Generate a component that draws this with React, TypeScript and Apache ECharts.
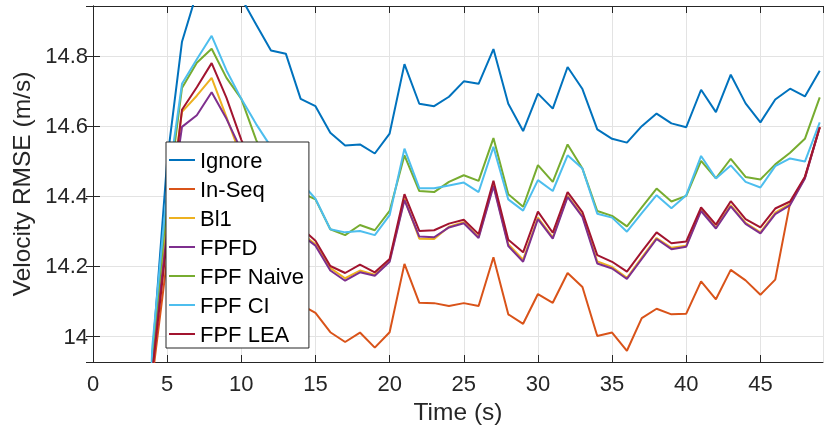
import React, { useEffect, useRef } from "react";
import * as echarts from "echarts";

const timeS = [3,4,5,6,7,8,9,10,11,12,13,14,15,16,17,18,19,20,21,22,23,24,25,26,27,28,29,30,31,32,33,34,35,36,37,38,39,40,41,42,43,44,45,46,47,48,49];

const ignore = [13.2,13.94,14.50,14.84,14.98,15.05,15.02,14.965,14.889,14.815,14.806,14.677,14.656,14.58,14.544,14.547,14.521,14.578,14.776,14.663,14.656,14.683,14.727,14.72,14.819,14.663,14.585,14.692,14.649,14.768,14.705,14.59,14.563,14.552,14.599,14.635,14.607,14.596,14.703,14.639,14.746,14.664,14.61,14.675,14.706,14.684,14.757];
const inSeq = [12.9,13.88,14.22,14.36,14.41,14.46,14.36,14.26,14.19,14.15,14.11,14.09,14.066,14.011,13.983,14.01,13.967,14.011,14.206,14.095,14.094,14.086,14.094,14.086,14.225,14.062,14.035,14.12,14.095,14.18,14.14,14.0,14.01,13.958,14.051,14.078,14.062,14.064,14.156,14.105,14.189,14.159,14.118,14.161,14.38,14.452,14.597];
const bl1 = [12.9,13.94,14.33,14.64,14.686,14.737,14.625,14.51,14.44,14.38,14.33,14.295,14.262,14.194,14.165,14.187,14.175,14.215,14.392,14.278,14.277,14.312,14.325,14.283,14.432,14.262,14.218,14.338,14.282,14.4,14.344,14.213,14.197,14.166,14.224,14.28,14.252,14.258,14.36,14.31,14.374,14.323,14.296,14.352,14.377,14.452,14.596];
const fpfd = [12.9,13.93,14.30,14.597,14.63,14.696,14.62,14.53,14.45,14.38,14.33,14.29,14.258,14.187,14.158,14.182,14.172,14.212,14.388,14.284,14.282,14.31,14.322,14.28,14.428,14.257,14.212,14.334,14.278,14.397,14.34,14.207,14.193,14.163,14.22,14.277,14.248,14.255,14.357,14.307,14.37,14.32,14.293,14.348,14.374,14.45,14.595];
const fpfNaive = [12.9,13.95,14.38,14.708,14.78,14.82,14.737,14.677,14.56,14.47,14.43,14.41,14.39,14.305,14.288,14.317,14.302,14.357,14.516,14.414,14.411,14.44,14.459,14.443,14.565,14.405,14.369,14.488,14.44,14.547,14.478,14.357,14.343,14.313,14.367,14.421,14.384,14.4,14.5,14.45,14.506,14.454,14.447,14.49,14.523,14.563,14.681];
const fpfCI = [12.9,13.97,14.42,14.72,14.79,14.857,14.758,14.677,14.605,14.54,14.49,14.44,14.392,14.305,14.296,14.30,14.288,14.345,14.535,14.422,14.422,14.43,14.438,14.411,14.54,14.39,14.358,14.445,14.414,14.516,14.478,14.349,14.338,14.298,14.351,14.402,14.365,14.402,14.514,14.45,14.487,14.44,14.424,14.485,14.507,14.498,14.61];
const fpfLEA = [12.9,13.90,14.28,14.646,14.71,14.779,14.68,14.56,14.47,14.40,14.35,14.31,14.272,14.2,14.18,14.204,14.182,14.22,14.405,14.3,14.302,14.321,14.332,14.291,14.443,14.275,14.239,14.355,14.295,14.411,14.354,14.231,14.212,14.184,14.241,14.296,14.265,14.27,14.367,14.318,14.385,14.334,14.31,14.364,14.384,14.455,14.596];

const seriesNames = ["Ignore", "In-Seq", "Bl1", "FPFD", "FPF Naive", "FPF CI", "FPF LEA"];
const seriesValues = [ignore, inSeq, bl1, fpfd, fpfNaive, fpfCI, fpfLEA];
const seriesColors = ["#0072BD", "#D95319", "#EDB120", "#7E2F8E", "#77AC30", "#4DBEEE", "#A2142F"];

const xMin = 0, xMax = 49.22, xStep = 5;
const yMin = 13.926, yMax = 14.942;

const FONT = "'Liberation Sans', Arial, Helvetica, sans-serif";
const AX = "#262626";

export default function App() {
  const ref = useRef<HTMLDivElement>(null);
  useEffect(() => {
    if (!ref.current) return;
    const chart = echarts.init(ref.current, undefined, { renderer: "svg" });
    const yFmt = (v: number) => {
      const k = Math.round(v / 0.2);
      if (Math.abs(v - k * 0.2) > 1e-6) return "";
      return String(Math.round(v * 10) / 10);
    };
    const xFmt = (v: number) => (Math.abs(v / 5 - Math.round(v / 5)) > 1e-6 ? "" : String(v));
    const common = {
      axisLine: { show: true, lineStyle: { color: AX, width: 1 } },
      axisTick: { show: true, inside: true, length: 7, lineStyle: { color: AX, width: 1 } },
    };
    chart.setOption({
      animation: false,
      textStyle: { fontFamily: FONT },
      grid: { left: 93, right: 2, top: 6, bottom: 70, containLabel: false },
      xAxis: [
        {
          type: "value", min: xMin, max: xMax, interval: xStep,
          name: "Time (s)", nameLocation: "middle", nameGap: 36,
          nameTextStyle: { fontSize: 24.5, color: AX, fontFamily: FONT },
          ...common,
          axisLabel: { fontSize: 22, color: AX, margin: 10, fontFamily: FONT, showMaxLabel: false, formatter: xFmt },
          splitLine: { show: true, lineStyle: { color: "#e3e3e3", width: 1 } },
        },
        {
          type: "value", position: "top", min: xMin, max: xMax, interval: xStep,
          ...common,
          axisLabel: { show: false },
          splitLine: { show: false },
        },
      ],
      yAxis: [
        {
          type: "value", min: yMin, max: yMax, splitNumber: 5,
          name: "Velocity RMSE (m/s)", nameLocation: "middle", nameGap: 56,
          nameTextStyle: { fontSize: 24.5, color: AX, fontFamily: FONT },
          ...common,
          axisLabel: { fontSize: 22, color: AX, margin: 5, fontFamily: FONT, showMinLabel: false, showMaxLabel: false, formatter: yFmt },
          splitLine: { show: true, lineStyle: { color: "#e3e3e3", width: 1 } },
        },
        {
          type: "value", position: "right", min: yMin, max: yMax, splitNumber: 5,
          ...common,
          axisLabel: { show: false },
          splitLine: { show: false },
        },
      ],
      legend: {
        orient: "vertical",
        left: 166,
        top: 142,
        backgroundColor: "#ffffff",
        borderColor: AX,
        borderWidth: 1,
        padding: [7, 5, 3, 3],
        icon: "rect",
        itemWidth: 26,
        itemHeight: 2,
        itemGap: 7,
        textStyle: { fontSize: 22, lineHeight: 22, color: "#000000", fontFamily: FONT },
        data: seriesNames,
      },
      series: seriesNames.map((name, si) => ({
        name,
        type: "line",
        symbol: "none",
        clip: true,
        color: seriesColors[si],
        lineStyle: { width: 2, color: seriesColors[si] },
        data: timeS.map((t, i) => [t, seriesValues[si][i]]),
      })),
    });
    return () => chart.dispose();
  }, []);
  return <div ref={ref} style={{ position: "fixed", left: 0, top: 0, width: 825, height: 432 }} />;
}
